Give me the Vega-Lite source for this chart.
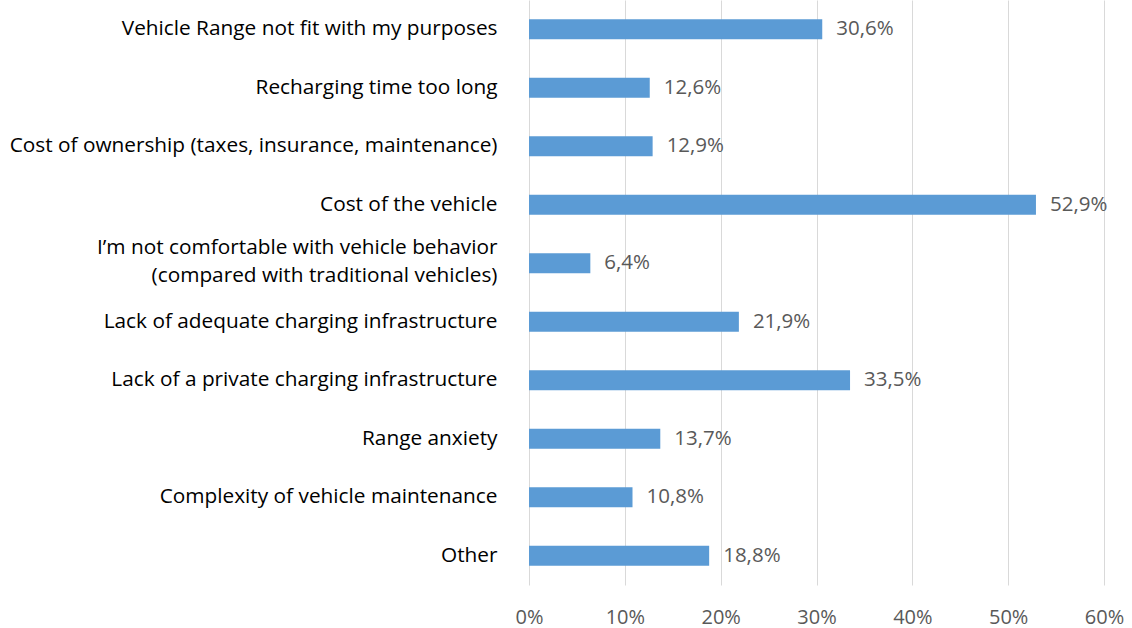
{
  "$schema": "https://vega.github.io/schema/vega-lite/v6.json",
  "autosize": "none",
  "width": 575,
  "height": 585,
  "padding": {"left": 529, "top": 0, "right": 28, "bottom": 43},
  "background": "white",
  "config": {
    "locale": {"number": {"decimal": ",", "thousands": ".", "grouping": [3], "currency": ["", " €"]}},
    "view": {"stroke": null},
    "font": "Open Sans"
  },
  "data": {
    "values": [
      {"reason": "Vehicle Range not fit with my purposes", "share": 0.306},
      {"reason": "Recharging time too long", "share": 0.126},
      {"reason": "Cost of ownership (taxes, insurance, maintenance)", "share": 0.129},
      {"reason": "Cost of the vehicle", "share": 0.529},
      {"reason": "I’m not comfortable with vehicle behavior|(compared with traditional vehicles)", "share": 0.064},
      {"reason": "Lack of adequate charging infrastructure", "share": 0.219},
      {"reason": "Lack of a private charging infrastructure", "share": 0.335},
      {"reason": "Range anxiety", "share": 0.137},
      {"reason": "Complexity of vehicle maintenance", "share": 0.108},
      {"reason": "Other", "share": 0.188}
    ]
  },
  "encoding": {
    "y": {
      "field": "reason",
      "type": "nominal",
      "sort": null,
      "scale": {"paddingInner": 0.66, "paddingOuter": 0.33},
      "axis": {
        "title": null,
        "domain": false,
        "ticks": false,
        "labelPadding": 32,
        "labelFont": "Open Sans",
        "labelFontSize": 20.8,
        "labelColor": "#000000",
        "labelLimit": 600,
        "labelLineHeight": 28,
        "labelOffset": {"condition": {"test": "indexof(datum.label, '|') >= 0", "value": -15}, "value": 0},
        "labelExpr": "split(datum.label, '|')"
      }
    },
    "x": {
      "field": "share",
      "type": "quantitative",
      "scale": {"domain": [0, 0.6], "nice": false},
      "axis": {
        "title": null,
        "format": ".0%",
        "values": [0, 0.1, 0.2, 0.3, 0.4, 0.5, 0.6],
        "domain": false,
        "ticks": false,
        "grid": true,
        "gridColor": "#d9d9d9",
        "labelFlush": false,
        "labelPadding": 22,
        "labelFont": "Open Sans",
        "labelFontSize": 20,
        "labelColor": "#595959"
      }
    }
  },
  "layer": [
    {
      "mark": {"type": "bar", "color": "#5b9bd5"}
    },
    {
      "mark": {"type": "text", "align": "left", "baseline": "middle", "dx": 14, "fontSize": 20.5, "font": "Open Sans", "color": "#595959"},
      "encoding": {
        "text": {"field": "share", "type": "quantitative", "format": ".1%"}
      }
    }
  ]
}
